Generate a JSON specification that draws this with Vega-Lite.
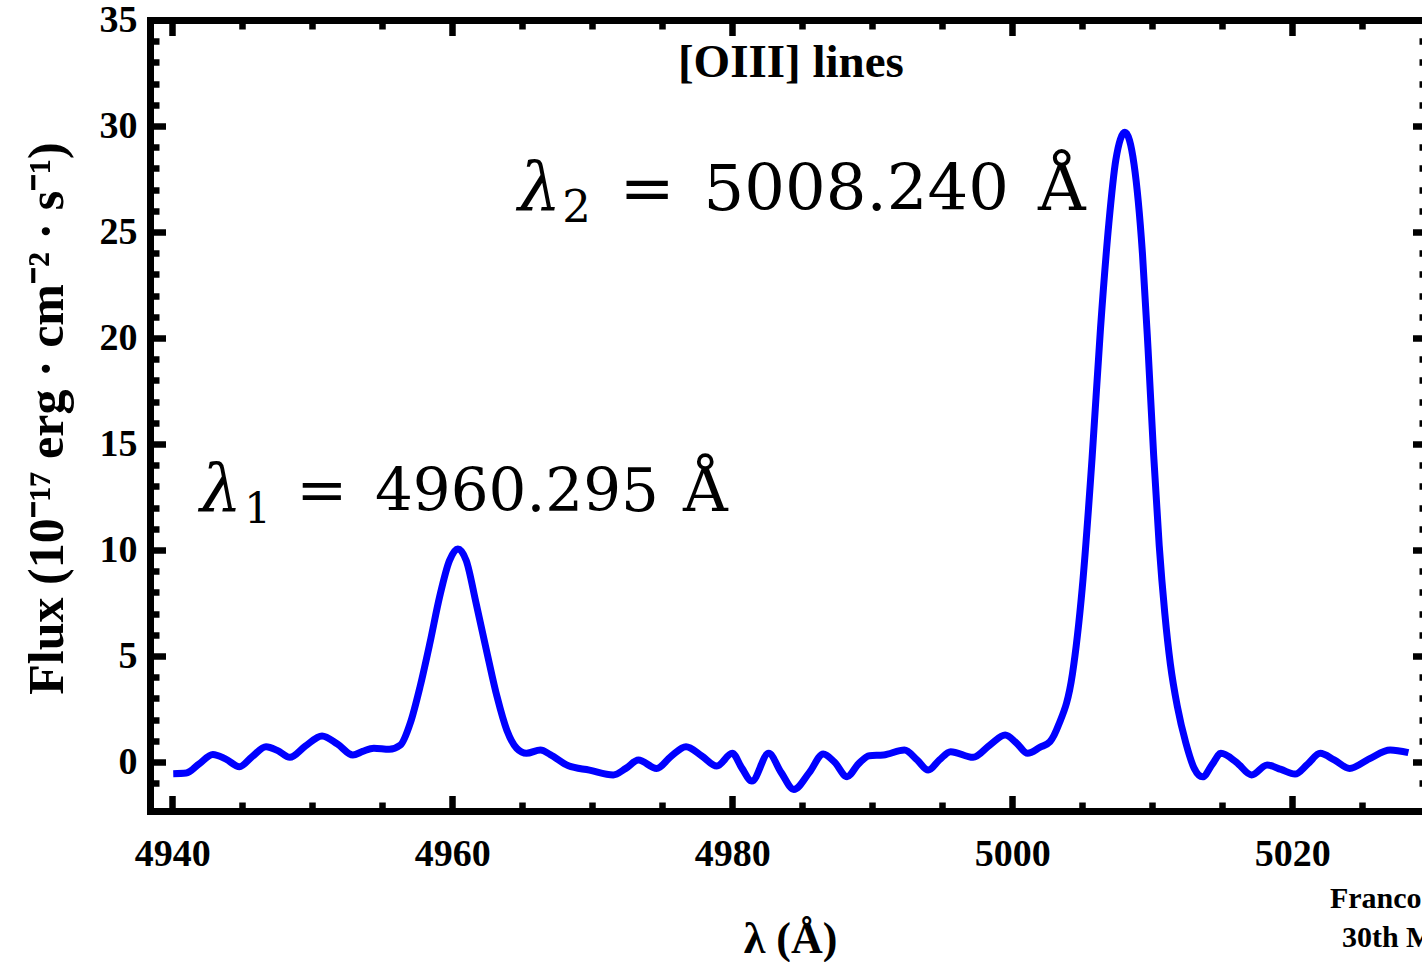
{
  "$schema": "https://vega.github.io/schema/vega-lite/v6.json",
  "width": 1272,
  "height": 791,
  "autosize": {"type": "none"},
  "padding": {"left": 150, "top": 20, "right": 0, "bottom": 151},
  "background": "white",
  "config": {
    "view": {"stroke": null},
    "axis": {
      "grid": false,
      "tickColor": "black",
      "domainColor": "black",
      "tickWidth": 6.5,
      "domainWidth": 7,
      "domainCap": "square",
      "labelFont": "Liberation Serif",
      "labelFontWeight": "bold",
      "labelFontSize": 38,
      "labelColor": "black",
      "titleFont": "Liberation Serif",
      "titleFontWeight": "bold",
      "titleColor": "black"
    }
  },
  "data": {
    "values": [
      {"wavelength": 4940.07, "flux": -0.55},
      {"wavelength": 4941.0, "flux": -0.52},
      {"wavelength": 4941.9, "flux": -0.1},
      {"wavelength": 4942.9, "flux": 0.36},
      {"wavelength": 4943.8, "flux": 0.15},
      {"wavelength": 4944.8, "flux": -0.22},
      {"wavelength": 4945.7, "flux": 0.25},
      {"wavelength": 4946.7, "flux": 0.72},
      {"wavelength": 4947.5, "flux": 0.55},
      {"wavelength": 4948.4, "flux": 0.22},
      {"wavelength": 4949.5, "flux": 0.75},
      {"wavelength": 4950.7, "flux": 1.23},
      {"wavelength": 4951.8, "flux": 0.85},
      {"wavelength": 4952.9, "flux": 0.33},
      {"wavelength": 4953.6, "flux": 0.5},
      {"wavelength": 4954.4, "flux": 0.65},
      {"wavelength": 4955.5, "flux": 0.6},
      {"wavelength": 4956.3, "flux": 0.8},
      {"wavelength": 4957.0, "flux": 1.83},
      {"wavelength": 4957.7, "flux": 3.55},
      {"wavelength": 4958.4, "flux": 5.6},
      {"wavelength": 4959.1, "flux": 7.8},
      {"wavelength": 4959.8, "flux": 9.5},
      {"wavelength": 4960.4, "flux": 10.05},
      {"wavelength": 4961.0, "flux": 9.5},
      {"wavelength": 4961.7, "flux": 7.5},
      {"wavelength": 4962.5, "flux": 5.1},
      {"wavelength": 4963.2, "flux": 3.08},
      {"wavelength": 4963.9, "flux": 1.5},
      {"wavelength": 4964.6, "flux": 0.65},
      {"wavelength": 4965.3, "flux": 0.41},
      {"wavelength": 4966.3, "flux": 0.57},
      {"wavelength": 4967.0, "flux": 0.35},
      {"wavelength": 4968.3, "flux": -0.18},
      {"wavelength": 4969.8, "flux": -0.38},
      {"wavelength": 4971.5, "flux": -0.61},
      {"wavelength": 4972.4, "flux": -0.3},
      {"wavelength": 4973.3, "flux": 0.09},
      {"wavelength": 4974.6, "flux": -0.3},
      {"wavelength": 4975.6, "flux": 0.25},
      {"wavelength": 4976.7, "flux": 0.72},
      {"wavelength": 4977.8, "flux": 0.3},
      {"wavelength": 4978.9, "flux": -0.19},
      {"wavelength": 4980.0, "flux": 0.41},
      {"wavelength": 4980.7, "flux": -0.3},
      {"wavelength": 4981.4, "flux": -0.9},
      {"wavelength": 4982.6, "flux": 0.41},
      {"wavelength": 4983.5, "flux": -0.5},
      {"wavelength": 4984.4, "flux": -1.29},
      {"wavelength": 4985.5, "flux": -0.5},
      {"wavelength": 4986.5, "flux": 0.38},
      {"wavelength": 4987.3, "flux": 0.0},
      {"wavelength": 4988.2, "flux": -0.69},
      {"wavelength": 4989.0, "flux": -0.1},
      {"wavelength": 4989.8, "flux": 0.3},
      {"wavelength": 4990.8, "flux": 0.33},
      {"wavelength": 4992.3, "flux": 0.57},
      {"wavelength": 4993.2, "flux": 0.1},
      {"wavelength": 4994.0, "flux": -0.38},
      {"wavelength": 4994.8, "flux": 0.1},
      {"wavelength": 4995.6, "flux": 0.49},
      {"wavelength": 4997.2, "flux": 0.22},
      {"wavelength": 4998.4, "flux": 0.8},
      {"wavelength": 4999.5, "flux": 1.27},
      {"wavelength": 5000.3, "flux": 0.9},
      {"wavelength": 5001.1, "flux": 0.41},
      {"wavelength": 5002.0, "flux": 0.7},
      {"wavelength": 5002.7, "flux": 0.96},
      {"wavelength": 5003.3, "flux": 1.73},
      {"wavelength": 5004.3, "flux": 4.15},
      {"wavelength": 5005.0, "flux": 8.2},
      {"wavelength": 5005.7, "flux": 14.3},
      {"wavelength": 5006.3, "flux": 20.4},
      {"wavelength": 5006.9, "flux": 25.4},
      {"wavelength": 5007.4, "flux": 28.4},
      {"wavelength": 5008.05, "flux": 29.7},
      {"wavelength": 5008.7, "flux": 28.2},
      {"wavelength": 5009.3, "flux": 24.0},
      {"wavelength": 5009.7, "flux": 19.5},
      {"wavelength": 5010.1, "flux": 14.5},
      {"wavelength": 5010.5, "flux": 10.2},
      {"wavelength": 5010.9, "flux": 7.0},
      {"wavelength": 5011.3, "flux": 4.6},
      {"wavelength": 5011.8, "flux": 2.6},
      {"wavelength": 5012.4, "flux": 0.9},
      {"wavelength": 5013.0, "flux": -0.3},
      {"wavelength": 5013.6, "flux": -0.7},
      {"wavelength": 5014.3, "flux": -0.1},
      {"wavelength": 5014.9, "flux": 0.41},
      {"wavelength": 5016.0, "flux": 0.0},
      {"wavelength": 5017.1, "flux": -0.61},
      {"wavelength": 5018.2, "flux": -0.14},
      {"wavelength": 5019.2, "flux": -0.35},
      {"wavelength": 5020.2, "flux": -0.57},
      {"wavelength": 5021.1, "flux": -0.1},
      {"wavelength": 5022.0, "flux": 0.41},
      {"wavelength": 5023.0, "flux": 0.1},
      {"wavelength": 5024.1, "flux": -0.3},
      {"wavelength": 5025.5, "flux": 0.15},
      {"wavelength": 5027.0, "flux": 0.57},
      {"wavelength": 5028.3, "flux": 0.44}
    ]
  },
  "resolve": {"axis": {"x": "independent", "y": "independent"}},
  "layer": [
    {
      "mark": {"type": "line", "color": "#0000ff", "strokeWidth": 7, "interpolate": "monotone"},
      "encoding": {
        "x": {
          "field": "wavelength", "type": "quantitative",
          "scale": {"domain": [4938.41, 5029.27], "nice": false, "zero": false},
          "axis": {
            "orient": "bottom", "values": [4940, 4960, 4980, 5000, 5020], "format": "d",
            "tickSize": -15.5, "labelPadding": 40, "labelFlush": false,
            "title": "λ (Å)", "titleFontSize": 44, "titleX": 640, "titleY": 141,
            "titleBaseline": "alphabetic", "titleAnchor": "middle", "titleAlign": "center"
          }
        },
        "y": {
          "field": "flux", "type": "quantitative",
          "scale": {"domain": [-2.31, 35], "nice": false, "zero": false},
          "axis": {
            "orient": "left", "values": [0, 5, 10, 15, 20, 25, 30, 35], "format": "d",
            "tickSize": -15.5, "labelPadding": 28.5, "labelFlush": false,
            "title": "Flux (10⁻¹⁷ erg · cm⁻² · s⁻¹)", "titleFontSize": 50,
            "titleX": -88, "titleY": 398, "titleAngle": 270,
            "titleBaseline": "alphabetic", "titleAlign": "center"
          }
        }
      }
    },
    {
      "data": {"values": [{}]},
      "mark": {"type": "point", "opacity": 0},
      "encoding": {
        "x": {
          "datum": 4980, "type": "quantitative",
          "scale": {"domain": [4938.41, 5029.27], "nice": false, "zero": false},
          "axis": {
            "orient": "bottom", "values": [4945, 4950, 4955, 4965, 4970, 4975, 4985, 4990, 4995, 5005, 5010, 5015, 5025],
            "tickSize": -9, "labels": false, "domain": false, "title": null
          }
        },
        "y": {
          "datum": 10, "type": "quantitative",
          "scale": {"domain": [-2.31, 35], "nice": false, "zero": false},
          "axis": {
            "orient": "left", "values": [-1, 1, 2, 3, 4, 6, 7, 8, 9, 11, 12, 13, 14, 16, 17, 18, 19, 21, 22, 23, 24, 26, 27, 28, 29, 31, 32, 33, 34],
            "tickSize": -9, "labels": false, "domain": false, "title": null
          }
        }
      }
    },
    {
      "data": {"values": [{}]},
      "mark": {"type": "point", "opacity": 0},
      "encoding": {
        "x": {
          "datum": 4980, "type": "quantitative",
          "scale": {"domain": [4938.41, 5029.27], "nice": false, "zero": false},
          "axis": {
            "orient": "top", "values": [4940, 4960, 4980, 5000, 5020],
            "tickSize": -15.5, "labels": false, "title": null
          }
        },
        "y": {
          "datum": 10, "type": "quantitative",
          "scale": {"domain": [-2.31, 35], "nice": false, "zero": false},
          "axis": {
            "orient": "right", "offset": 6, "values": [0, 5, 10, 15, 20, 25, 30, 35],
            "tickSize": -15.5, "labels": false, "domain": false, "title": null
          }
        }
      }
    },
    {
      "data": {"values": [{}]},
      "mark": {"type": "point", "opacity": 0},
      "encoding": {
        "x": {
          "datum": 4980, "type": "quantitative",
          "scale": {"domain": [4938.41, 5029.27], "nice": false, "zero": false},
          "axis": {
            "orient": "top", "values": [4945, 4950, 4955, 4965, 4970, 4975, 4985, 4990, 4995, 5005, 5010, 5015, 5025],
            "tickSize": -9, "labels": false, "domain": false, "title": null
          }
        },
        "y": {
          "datum": 10, "type": "quantitative",
          "scale": {"domain": [-2.31, 35], "nice": false, "zero": false},
          "axis": {
            "orient": "right", "offset": 6, "values": [-1, 1, 2, 3, 4, 6, 7, 8, 9, 11, 12, 13, 14, 16, 17, 18, 19, 21, 22, 23, 24, 26, 27, 28, 29, 31, 32, 33, 34],
            "tickSize": -9, "labels": false, "domain": false, "title": null
          }
        }
      }
    },
    {
      "data": {"values": [{}]},
      "mark": {"type": "text", "text": "[OIII] lines", "font": "Liberation Serif", "fontWeight": "bold", "fontSize": 47, "align": "center", "baseline": "alphabetic", "color": "black"},
      "encoding": {
        "x": {"datum": 4984.19, "type": "quantitative", "scale": {"domain": [4938.41, 5029.27], "nice": false, "zero": false}, "axis": null},
        "y": {"datum": 32.31, "type": "quantitative", "scale": {"domain": [-2.31, 35], "nice": false, "zero": false}, "axis": null}
      }
    },
    {
      "data": {"values": [{}]},
      "mark": {"type": "text", "text": "λ", "font": "DejaVu Serif", "fontStyle": "italic", "fontSize": 66, "align": "left", "baseline": "alphabetic", "color": "black"},
      "encoding": {
        "x": {"datum": 4941.98, "type": "quantitative", "scale": {"domain": [4938.41, 5029.27], "nice": false, "zero": false}, "axis": null},
        "y": {"datum": 11.84, "type": "quantitative", "scale": {"domain": [-2.31, 35], "nice": false, "zero": false}, "axis": null}
      }
    },
    {
      "data": {"values": [{}]},
      "mark": {"type": "text", "text": "1", "font": "DejaVu Serif", "fontSize": 42, "align": "left", "baseline": "alphabetic", "color": "black"},
      "encoding": {
        "x": {"datum": 4945.15, "type": "quantitative", "scale": {"domain": [4938.41, 5029.27], "nice": false, "zero": false}, "axis": null},
        "y": {"datum": 11.27, "type": "quantitative", "scale": {"domain": [-2.31, 35], "nice": false, "zero": false}, "axis": null}
      }
    },
    {
      "data": {"values": [{}]},
      "mark": {"type": "text", "text": "=", "font": "DejaVu Serif", "fontSize": 61, "align": "left", "baseline": "alphabetic", "color": "black"},
      "encoding": {
        "x": {"datum": 4948.85, "type": "quantitative", "scale": {"domain": [4938.41, 5029.27], "nice": false, "zero": false}, "axis": null},
        "y": {"datum": 11.84, "type": "quantitative", "scale": {"domain": [-2.31, 35], "nice": false, "zero": false}, "axis": null}
      }
    },
    {
      "data": {"values": [{}]},
      "mark": {"type": "text", "text": "4960.295", "font": "DejaVu Serif", "fontSize": 59.5, "align": "left", "baseline": "alphabetic", "color": "black"},
      "encoding": {
        "x": {"datum": 4954.48, "type": "quantitative", "scale": {"domain": [4938.41, 5029.27], "nice": false, "zero": false}, "axis": null},
        "y": {"datum": 11.84, "type": "quantitative", "scale": {"domain": [-2.31, 35], "nice": false, "zero": false}, "axis": null}
      }
    },
    {
      "data": {"values": [{}]},
      "mark": {"type": "text", "text": "Å", "font": "DejaVu Serif", "fontSize": 62, "align": "left", "baseline": "alphabetic", "color": "black"},
      "encoding": {
        "x": {"datum": 4976.48, "type": "quantitative", "scale": {"domain": [4938.41, 5029.27], "nice": false, "zero": false}, "axis": null},
        "y": {"datum": 11.84, "type": "quantitative", "scale": {"domain": [-2.31, 35], "nice": false, "zero": false}, "axis": null}
      }
    },
    {
      "data": {"values": [{}]},
      "mark": {"type": "text", "text": "λ", "font": "DejaVu Serif", "fontStyle": "italic", "fontSize": 68, "align": "left", "baseline": "alphabetic", "color": "black"},
      "encoding": {
        "x": {"datum": 4964.69, "type": "quantitative", "scale": {"domain": [4938.41, 5029.27], "nice": false, "zero": false}, "axis": null},
        "y": {"datum": 26.04, "type": "quantitative", "scale": {"domain": [-2.31, 35], "nice": false, "zero": false}, "axis": null}
      }
    },
    {
      "data": {"values": [{}]},
      "mark": {"type": "text", "text": "2", "font": "DejaVu Serif", "fontSize": 45, "align": "left", "baseline": "alphabetic", "color": "black"},
      "encoding": {
        "x": {"datum": 4967.85, "type": "quantitative", "scale": {"domain": [4938.41, 5029.27], "nice": false, "zero": false}, "axis": null},
        "y": {"datum": 25.47, "type": "quantitative", "scale": {"domain": [-2.31, 35], "nice": false, "zero": false}, "axis": null}
      }
    },
    {
      "data": {"values": [{}]},
      "mark": {"type": "text", "text": "=", "font": "DejaVu Serif", "fontSize": 66, "align": "left", "baseline": "alphabetic", "color": "black"},
      "encoding": {
        "x": {"datum": 4971.95, "type": "quantitative", "scale": {"domain": [4938.41, 5029.27], "nice": false, "zero": false}, "axis": null},
        "y": {"datum": 26.04, "type": "quantitative", "scale": {"domain": [-2.31, 35], "nice": false, "zero": false}, "axis": null}
      }
    },
    {
      "data": {"values": [{}]},
      "mark": {"type": "text", "text": "5008.240", "font": "DejaVu Serif", "fontSize": 64, "align": "left", "baseline": "alphabetic", "color": "black"},
      "encoding": {
        "x": {"datum": 4977.95, "type": "quantitative", "scale": {"domain": [4938.41, 5029.27], "nice": false, "zero": false}, "axis": null},
        "y": {"datum": 26.04, "type": "quantitative", "scale": {"domain": [-2.31, 35], "nice": false, "zero": false}, "axis": null}
      }
    },
    {
      "data": {"values": [{}]},
      "mark": {"type": "text", "text": "Å", "font": "DejaVu Serif", "fontSize": 66, "align": "left", "baseline": "alphabetic", "color": "black"},
      "encoding": {
        "x": {"datum": 5001.84, "type": "quantitative", "scale": {"domain": [4938.41, 5029.27], "nice": false, "zero": false}, "axis": null},
        "y": {"datum": 26.04, "type": "quantitative", "scale": {"domain": [-2.31, 35], "nice": false, "zero": false}, "axis": null}
      }
    },
    {
      "data": {"values": [{}]},
      "mark": {"type": "text", "text": "Franco", "font": "Liberation Serif", "fontWeight": "bold", "fontSize": 30, "align": "left", "baseline": "alphabetic", "color": "black"},
      "encoding": {
        "x": {"datum": 5022.69, "type": "quantitative", "scale": {"domain": [4938.41, 5029.27], "nice": false, "zero": false}, "axis": null},
        "y": {"datum": -6.89, "type": "quantitative", "scale": {"domain": [-2.31, 35], "nice": false, "zero": false}, "axis": null}
      }
    },
    {
      "data": {"values": [{}]},
      "mark": {"type": "text", "text": "30th March", "font": "Liberation Serif", "fontWeight": "bold", "fontSize": 30, "align": "left", "baseline": "alphabetic", "color": "black"},
      "encoding": {
        "x": {"datum": 5023.55, "type": "quantitative", "scale": {"domain": [4938.41, 5029.27], "nice": false, "zero": false}, "axis": null},
        "y": {"datum": -8.73, "type": "quantitative", "scale": {"domain": [-2.31, 35], "nice": false, "zero": false}, "axis": null}
      }
    }
  ]
}
